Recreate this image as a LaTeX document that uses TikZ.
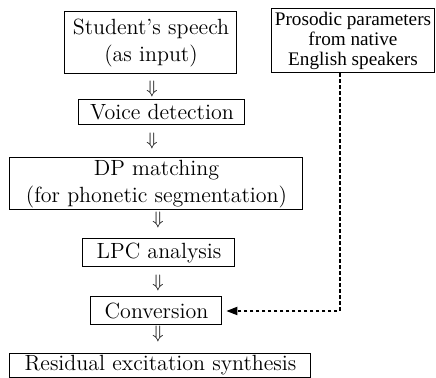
\documentclass[tikz,border=0pt]{standalone}
\usepackage{fontspec}
\newfontfamily\timesf{Liberation Serif}
\usetikzlibrary{arrows.meta,calc}
\begin{document}
\begin{tikzpicture}[x=0.5pt,y=-0.5pt,
  box/.style={draw,line width=0.5pt,inner sep=0pt,align=center,font=\fontsize{11}{13.8}\selectfont},
  dn/.style={inner sep=0pt,font=\fontsize{9}{10}\selectfont},
  flow/.style={draw,line width=0.55pt,dash pattern=on 1.6pt off 1.4pt,-{Triangle[length=5.5pt,width=4.2pt]},shorten >=2pt}]
\useasboundingbox (0,0) rectangle (436,378);
\node[box,minimum width=86pt,minimum height=31pt] (s) at (151,43) {Student's speech\\(as input)};
\node[box,minimum width=83pt,minimum height=12.5pt] (v) at (162,112.5) {Voice detection};
\node[box,minimum width=146.5pt,minimum height=26pt] (d) at (156.5,184) {DP matching\\(for phonetic segmentation)};
\node[box,minimum width=76pt,minimum height=14pt] (l) at (159,253) {LPC analysis};
\node[box,minimum width=65.5pt,minimum height=14pt] (c) at (156.5,311) {Conversion};
\node[box,minimum width=150.5pt,minimum height=12pt] (r) at (160.5,365.5) {Residual excitation synthesis};
\node[box,minimum width=81.5pt,minimum height=32pt,font=\timesf\fontsize{9.6}{10.2}\selectfont] (p) at (353,41) {Prosodic parameters\\from native\\English speakers};
\node[dn] (a1) at (152,89) {$\Downarrow$};
\node[dn] (a2) at (152,141) {$\Downarrow$};
\node[dn] (a3) at (158,220) {$\Downarrow$};
\node[dn] (a4) at (158,283) {$\Downarrow$};
\node[dn] (a5) at (158,334.5) {$\Downarrow$};
\coordinate (k) at (340,311);
\draw[flow] (p.south -| k) -- (k) -- (c.east);
\end{tikzpicture}
\end{document}
